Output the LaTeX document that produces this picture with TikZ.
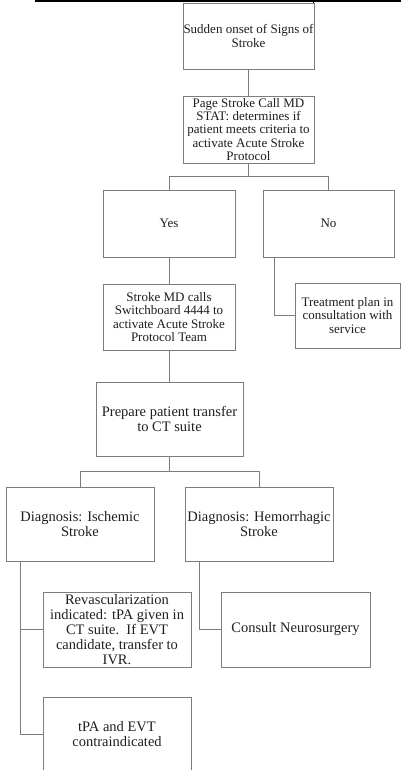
\documentclass[tikz,border=0pt]{standalone}
\usepackage{fontspec}
\setmainfont{Liberation Serif}
\usetikzlibrary{positioning,calc}
\definecolor{boxgray}{RGB}{125,125,125}
\definecolor{txtgray}{RGB}{30,30,30}

\begin{document}
\begin{tikzpicture}[x=1pt,y=-1pt,
        blk/.style={draw=boxgray, line width=0.9pt, align=center, text=txtgray,
            inner xsep=0.5pt, inner ysep=0pt, font=\fontsize{13}{13.3}\selectfont},
        big/.style={font=\fontsize{14.5}{15}\selectfont},
        con/.style={draw=boxgray, line width=0.9pt}]
    \useasboundingbox (0,0) rectangle (401,770);
    % edge of the table above
    \draw[line width=2.5pt] (35,1.25) -- (401,1.25);
    \draw[line width=1pt] (313,0) -- (313,4);

    \node[blk, minimum width=131pt, minimum height=66pt] (onset) at (248.5,36) {Sudden onset of Signs of\\Stroke};
    \node[blk, minimum width=131pt, minimum height=67pt] (page) at (248.5,129.5) {Page Stroke Call MD\\STAT: determines if\\patient meets criteria to\\activate Acute Stroke\\Protocol};
    \node[blk, minimum width=132pt, minimum height=67pt] (yes) at (169,223.5) {Yes};
    \node[blk, minimum width=131pt, minimum height=67pt] (no) at (328.5,223.5) {No};
    \node[blk, minimum width=132pt, minimum height=66pt] (smd) at (169,317) {Stroke MD calls\\Switchboard 4444 to\\activate Acute Stroke\\Protocol Team};
    \node[blk, minimum width=105pt, minimum height=65pt] (treat) at (347.5,315.5) {Treatment plan in\\consultation with\\service};
    \node[blk, big, minimum width=147pt, minimum height=74pt] (prep) at (169.5,419) {Prepare patient transfer\\to CT suite};
    \node[blk, big, minimum width=148pt, minimum height=74pt] (isch) at (80,524) {Diagnosis: Ischemic\\Stroke};
    \node[blk, big, minimum width=148pt, minimum height=74pt] (hem) at (259,524) {Diagnosis: Hemorrhagic\\Stroke};
    \node[blk, big, minimum width=148pt, minimum height=75pt] (revasc) at (117,629.5) {Revascularization\\indicated: tPA given in\\CT suite.\ \ If EVT\\candidate, transfer to\\IVR.};
    \node[blk, big, minimum width=149pt, minimum height=75pt] (consult) at (295.5,629.5) {Consult Neurosurgery};
    \node[blk, big, minimum width=148pt, minimum height=75pt] (tpa) at (117,734.5) {tPA and EVT\\contraindicated};

    \draw[con] (onset) -- (page);
    \draw[con] (page.south) -- ++(0,13) coordinate (j1) -| (yes.north);
    \draw[con] (j1) -| (no.north);
    \draw[con] (yes) -- (smd);
    \draw[con] ([xshift=12pt]no.south west) |- (treat.west);
    \draw[con] (smd.south) -- (smd.south |- prep.north);
    \draw[con] (prep.south) -- ++(0,15) coordinate (j2) -| (isch.north);
    \draw[con] (j2) -| (hem.north);
    \draw[con] ([xshift=15pt]isch.south west) |- (revasc.west);
    \draw[con] ([xshift=15pt]isch.south west) |- (tpa.west);
    \draw[con] ([xshift=15pt]hem.south west) |- (consult.west);
\end{tikzpicture}
\end{document}
